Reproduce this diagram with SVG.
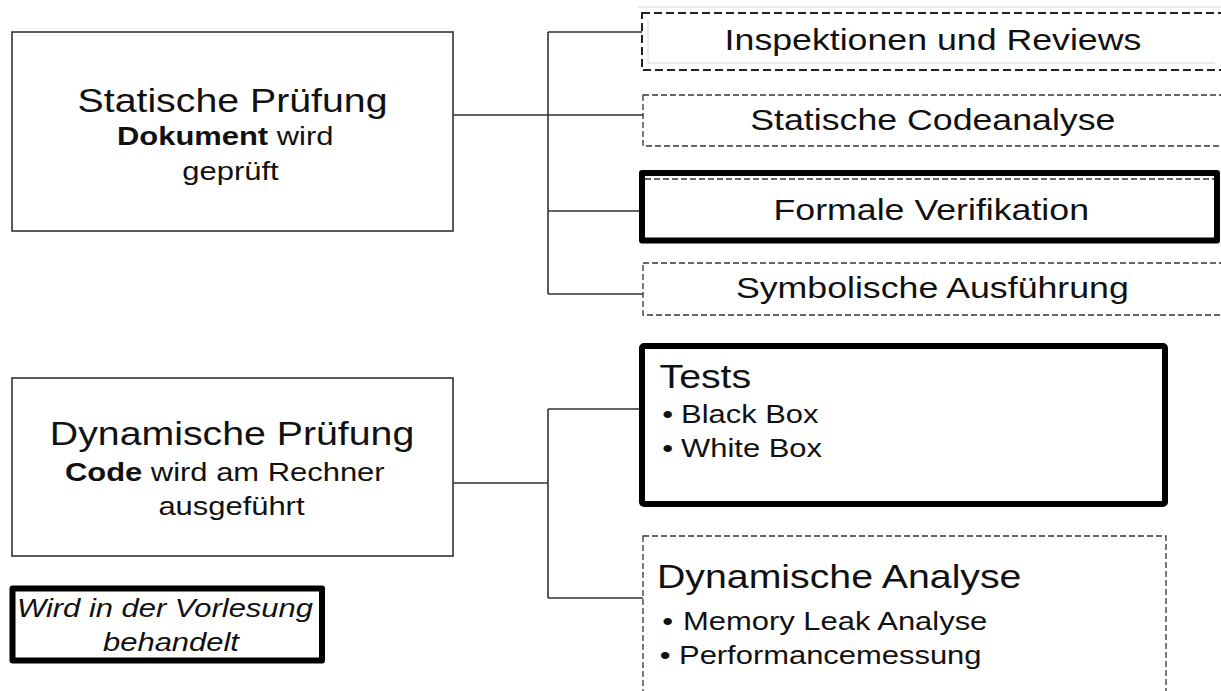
<svg xmlns="http://www.w3.org/2000/svg" width="1221" height="691" viewBox="0 0 1221 691">
<style>
text{font-family:"Liberation Sans",Arial,sans-serif;fill:#111}
.t{font-size:33px}
.s{font-size:26px}
.r{font-size:30px}
.m{text-anchor:middle}
.b{font-weight:bold}
.i{font-style:italic}
.box{fill:none;stroke:#333;stroke-width:1.6}
.dash{fill:none;stroke:#333;stroke-width:1.3;stroke-dasharray:6 3}
.dash1{fill:none;stroke:#222;stroke-width:2;stroke-dasharray:8 4}
.thick{fill:none;stroke:#000;stroke-width:6;stroke-linejoin:round}
.faint{fill:none;stroke:#d8d8d8;stroke-width:1}
.conn{fill:none;stroke:#333;stroke-width:1.6}
</style>
<rect width="1221" height="691" fill="#fff"/>
<g id="connectors">
<path class="conn" d="M453 115H548M548 32V294M548 32H642M548 115H643M548 211H639M548 294H643"/>
<path class="conn" d="M453 483H548M548 409V598M548 409H639M548 598H643"/>
</g>
<g id="statische">
<rect class="box" x="12" y="32" width="441" height="199"/>
<g transform="scale(1.19,1)">
<text class="t m" x="195.4" y="112">Statische Prüfung</text>
<text class="s" x="98.3" y="145"><tspan class="b">Dokument</tspan> wird</text>
<text class="s m" x="193.7" y="180">geprüft</text>
</g>
</g>
<g id="dynamische">
<rect class="box" x="12" y="378" width="441" height="178"/>
<g transform="scale(1.19,1)">
<text class="t m" x="195" y="445">Dynamische Prüfung</text>
<text class="s" x="54.6" y="481"><tspan class="b">Code</tspan> wird am Rechner</text>
<text class="s m" x="194.5" y="515">ausgeführt</text>
</g>
</g>
<g id="legende">
<rect class="thick" x="12.5" y="588.5" width="309.5" height="72" stroke-width="7"/>
<g transform="scale(1.19,1)">
<text class="s i" x="14.3" y="617">Wird in der Vorlesung</text>
<text class="s i m" x="143.7" y="651">behandelt</text>
</g>
</g>
<g id="inspektionen">
<path class="faint" d="M638 7H1221M648 19V63H1215"/>
<rect class="dash1" x="642" y="13" width="600" height="57"/>
<text class="r m" transform="scale(1.19,1)" x="784" y="50">Inspektionen und Reviews</text>
</g>
<g id="codeanalyse">
<rect class="dash" x="643" y="95" width="600" height="51"/>
<text class="r m" transform="scale(1.19,1)" x="783.9" y="130">Statische Codeanalyse</text>
</g>
<g id="formale">
<path class="dash" d="M645 179H1215"/>
<rect class="thick" x="642" y="173" width="575" height="67.5"/>
<text class="r m" transform="scale(1.19,1)" x="782.6" y="220">Formale Verifikation</text>
</g>
<g id="symbolische">
<rect class="dash" x="643" y="263" width="600" height="52"/>
<text class="r m" transform="scale(1.19,1)" x="783.5" y="298">Symbolische Ausführung</text>
</g>
<g id="tests">
<rect class="thick" x="642" y="346" width="523" height="158" rx="2"/>
<g transform="scale(1.19,1)">
<text class="t" x="554.2" y="388">Tests</text>
<text class="s" x="556.5" y="423">•</text>
<text class="s" x="572.3" y="423">Black Box</text>
<text class="s" x="556.5" y="457">•</text>
<text class="s" x="572.3" y="457">White Box</text>
</g>
</g>
<g id="dynanalyse">
<rect class="dash" x="643" y="536" width="523" height="200"/>
<g transform="scale(1.19,1)">
<text class="t" x="552.1" y="588">Dynamische Analyse</text>
<text class="s" x="556.5" y="630">•</text>
<text class="s" x="574" y="630">Memory Leak Analyse</text>
<text class="s" x="554.5" y="664">•</text>
<text class="s" x="570.6" y="664">Performancemessung</text>
</g>
</g>
</svg>
